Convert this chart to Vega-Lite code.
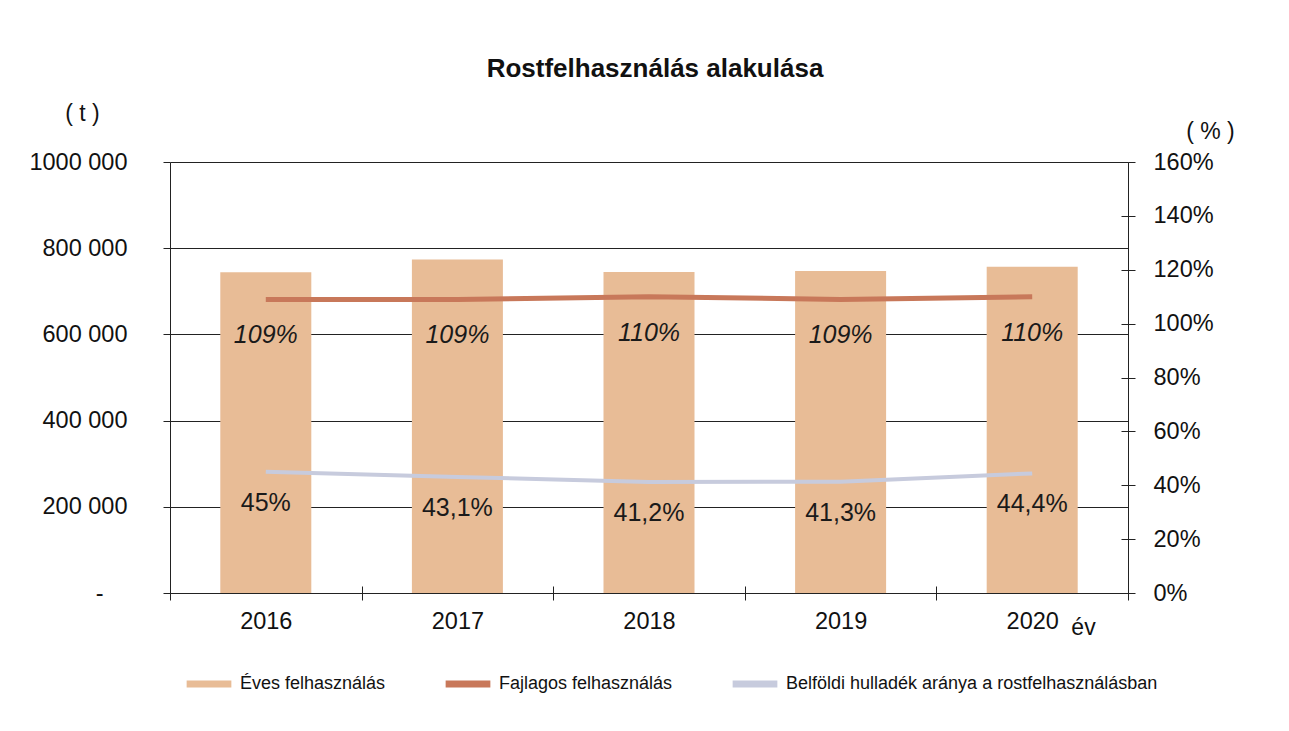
{
  "$schema": "https://vega.github.io/schema/vega-lite/v6.json",
  "autosize": {"type": "none"},
  "width": 958,
  "height": 431,
  "padding": {"left": 170, "top": 162, "right": 161, "bottom": 138},
  "background": "white",
  "title": {
    "text": "Rostfelhasználás alakulása",
    "fontSize": 26,
    "fontWeight": "bold",
    "color": "#111111",
    "anchor": "middle",
    "dx": 6,
    "offset": 20
  },
  "config": {
    "font": "Liberation Sans",
    "view": {"stroke": null},
    "locale": {"number": {"decimal": ",", "thousands": " ", "grouping": [3], "currency": ["", ""]}}
  },
  "data": {
    "values": [
      {"year": "2016", "eves": 744000, "fajlagos": 1.09, "belfoldi": 0.45},
      {"year": "2017", "eves": 774000, "fajlagos": 1.09, "belfoldi": 0.431},
      {"year": "2018", "eves": 745000, "fajlagos": 1.10, "belfoldi": 0.412},
      {"year": "2019", "eves": 747000, "fajlagos": 1.09, "belfoldi": 0.413},
      {"year": "2020", "eves": 757000, "fajlagos": 1.10, "belfoldi": 0.444}
    ]
  },
  "layer": [
    {
      "mark": {"type": "bar", "width": {"band": 0.475}},
      "encoding": {
        "x": {
          "field": "year", "type": "ordinal",
          "scale": {"paddingInner": 0, "paddingOuter": 0},
          "axis": {
            "orient": "bottom",
            "tickBand": "extent",
            "grid": false,
            "tickSize": 7,
            "tickColor": "#222222",
            "domainColor": "#222222",
            "labelPadding": 9,
            "labelFontSize": 23.5,
            "labelColor": "#111111",
            "labelAngle": 0,
            "title": "év",
            "titleX": 913,
            "titleY": 34,
            "titleFontSize": 23,
            "titleFontWeight": "normal",
            "titleColor": "#111111",
            "titleAlign": "center",
            "titleBaseline": "middle"
          }
        },
        "y": {
          "field": "eves", "type": "quantitative",
          "scale": {"domain": [0, 1000000], "nice": false},
          "axis": {
            "orient": "left",
            "values": [0, 200000, 400000, 600000, 800000, 1000000],
            "labelExpr": "datum.value == 0 ? '-' : floor(datum.value / 1000) + ' 000'",
            "grid": true,
            "gridColor": "#222222",
            "gridOpacity": 1,
            "gridWidth": 1,
            "domainColor": "#222222",
            "tickColor": "#222222",
            "tickSize": 7,
            "labelPadding": {"condition": {"test": "datum.value == 0", "value": 60}, "value": 36},
            "labelFontSize": 23.5,
            "labelColor": "#111111",
            "title": "( t )",
            "titleAngle": 0,
            "titleX": -88,
            "titleY": -49,
            "titleFontSize": 23,
            "titleFontWeight": "normal",
            "titleColor": "#111111",
            "titleAlign": "center",
            "titleBaseline": "middle"
          }
        },
        "color": {
          "datum": "Éves felhasználás", "type": "nominal",
          "scale": {
            "domain": ["Éves felhasználás", "Fajlagos felhasználás", "Belföldi hulladék aránya a rostfelhasználásban"],
            "range": ["#e8bc96", "#c8785a", "#c7cbdd"]
          },
          "legend": {
            "orient": "none",
            "legendX": 13,
            "legendY": 496,
            "direction": "horizontal",
            "title": null,
            "symbolType": "stroke",
            "symbolSize": 2000,
            "symbolStrokeWidth": 7,
            "labelFontSize": 18,
            "labelColor": "#111111",
            "labelOffset": 5,
            "labelLimit": 600,
            "columnPadding": 45,
            "encode": {
              "symbols": {
                "update": {
                  "stroke": {"scale": "color", "field": "value"}
                }
              }
            }
          }
        }
      }
    },
    {
      "mark": {"type": "line", "strokeWidth": 5},
      "encoding": {
        "x": {"field": "year", "type": "ordinal", "axis": null},
        "y": {
          "field": "fajlagos", "type": "quantitative",
          "scale": {"domain": [0, 1.6], "nice": false},
          "axis": {
            "orient": "right",
            "values": [0, 0.2, 0.4, 0.6, 0.8, 1.0, 1.2, 1.4, 1.6],
            "format": ".0%",
            "grid": false,
            "domainColor": "#222222",
            "tickColor": "#222222",
            "tickSize": 7,
            "labelPadding": 18,
            "labelFontSize": 23.5,
            "labelColor": "#111111",
            "title": "( % )",
            "titleAngle": 0,
            "titleX": 82,
            "titleY": -31,
            "titleFontSize": 23,
            "titleFontWeight": "normal",
            "titleColor": "#111111",
            "titleAlign": "center",
            "titleBaseline": "middle"
          }
        },
        "color": {
          "datum": "Fajlagos felhasználás", "type": "nominal",
          "scale": {
            "domain": ["Éves felhasználás", "Fajlagos felhasználás", "Belföldi hulladék aránya a rostfelhasználásban"],
            "range": ["#e8bc96", "#c8785a", "#c7cbdd"]
          }
        }
      }
    },
    {
      "mark": {"type": "line", "strokeWidth": 4},
      "encoding": {
        "x": {"field": "year", "type": "ordinal", "axis": null},
        "y": {
          "field": "belfoldi", "type": "quantitative",
          "scale": {"domain": [0, 1.6], "nice": false},
          "axis": null
        },
        "color": {
          "datum": "Belföldi hulladék aránya a rostfelhasználásban", "type": "nominal",
          "scale": {
            "domain": ["Éves felhasználás", "Fajlagos felhasználás", "Belföldi hulladék aránya a rostfelhasználásban"],
            "range": ["#e8bc96", "#c8785a", "#c7cbdd"]
          }
        }
      }
    },
    {
      "mark": {"type": "text", "fontSize": 25, "fontStyle": "italic", "color": "#1a1a1a", "dy": 36, "baseline": "middle"},
      "encoding": {
        "x": {
          "field": "year", "type": "ordinal",
          "axis": {
            "orient": "bottom",
            "tickBand": "extent",
            "grid": false,
            "domain": false,
            "labels": false,
            "tickSize": -7,
            "tickColor": "#222222",
            "title": null
          }
        },
        "y": {
          "field": "fajlagos", "type": "quantitative",
          "scale": {"domain": [0, 1.6], "nice": false},
          "axis": {
            "orient": "right",
            "values": [0, 0.2, 0.4, 0.6, 0.8, 1.0, 1.2, 1.4, 1.6],
            "grid": false,
            "domain": false,
            "labels": false,
            "tickSize": -7,
            "tickColor": "#222222",
            "title": null
          }
        },
        "text": {"field": "fajlagos", "type": "quantitative", "format": ".1~%"}
      }
    },
    {
      "mark": {"type": "text", "fontSize": 25, "color": "#1a1a1a", "dy": 31, "baseline": "middle"},
      "encoding": {
        "x": {"field": "year", "type": "ordinal", "axis": null},
        "y": {
          "field": "belfoldi", "type": "quantitative",
          "scale": {"domain": [0, 1.6], "nice": false},
          "axis": null
        },
        "text": {"field": "belfoldi", "type": "quantitative", "format": ".1~%"}
      }
    }
  ],
  "resolve": {
    "scale": {"y": "independent"},
    "axis": {"x": "independent", "y": "independent"}
  }
}
